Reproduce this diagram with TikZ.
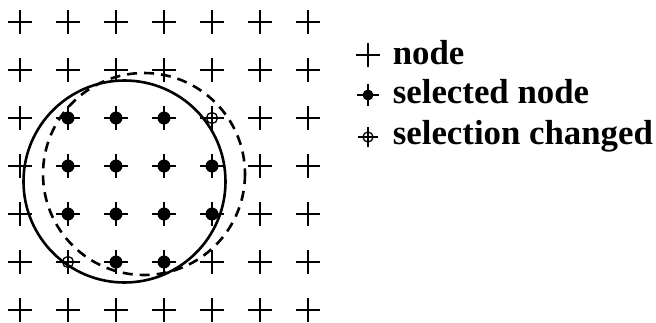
\documentclass[tikz,border=0pt]{standalone}
\usepackage{fontspec}
\setmainfont{Liberation Serif}
\begin{document}
\begin{tikzpicture}[x=1pt,y=-1pt,line width=1.7pt,
  every node/.style={font=\bfseries\fontsize{34.8}{38}\selectfont,anchor=base west,inner sep=0}]
\useasboundingbox (0,0) rectangle (656,322);
% grid of nodes
\foreach \i in {0,...,6}
  \foreach \j in {0,...,6}
    \draw ({20+48*\i-12},{22+48*\j}) -- +(24,0) ({20+48*\i},{22+48*\j-12}) -- +(0,24);
% selected nodes
\foreach \p in {(68,118),(116,118),(164,118),(68,166),(116,166),(164,166),(212,166),
                (68,214),(116,214),(164,214),(212,214),(116,262),(164,262)}
  \fill \p circle (6.5);
% selection changed
\foreach \p in {(212,118),(68,262)}
  \draw[line width=1.3pt] \p circle (5.5);
% old and new range
\draw[line width=2.6pt] (124.5,181.5) circle (101);
\draw[line width=2.6pt,dash pattern=on 10pt off 7pt] (144,174) circle (101);
% legend
\draw (356,55) -- +(24,0) (368,43) -- +(0,24);
\node at (392,64) {node};
\draw (357,95) -- +(22,0) (368,84) -- +(0,22);
\fill (368,95) circle (5.5);
\node at (392,103) {selected node};
\draw (358,137) -- +(20,0) (368,127) -- +(0,20);
\draw[line width=1.3pt] (368,137) circle (5);
\node at (392,144) {selection changed};
\end{tikzpicture}
\end{document}
